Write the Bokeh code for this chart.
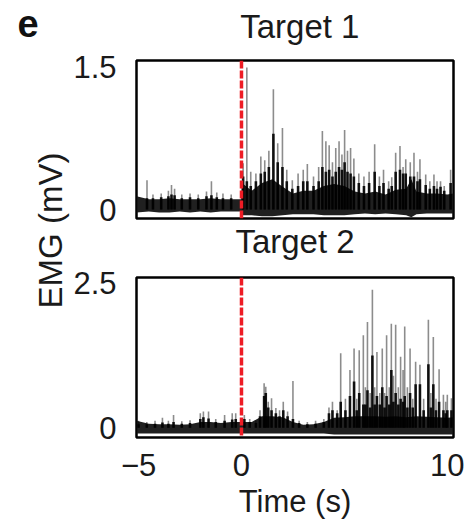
import numpy as np
from bokeh.plotting import figure
from bokeh.layouts import row, column
from bokeh.models import Range1d, FixedTicker, Span, ColumnDataSource, Title
from bokeh.core.properties import value
from bokeh.embed import file_html
from bokeh.resources import INLINE

# ---------------- data ----------------
# Target 1: dense EMG band envelope (mV)
t1_band_t = [-5.1, -4.5, -4.0, -3.5, -3.0, -2.5, -2.0, -1.5, -1.0, -0.5, -0.02, 0.02, 0.5, 1.0, 1.5,
             2.0, 2.5, 3.0, 3.5, 4.0, 4.5, 5.0, 5.5, 6.0, 6.5, 7.0, 7.5, 8.0, 8.25, 8.5, 9.0, 9.5, 10.0, 10.3]
t1_band_hi = [0.14, 0.11, 0.11, 0.12, 0.11, 0.11, 0.11, 0.12, 0.11, 0.11, 0.11, 0.28, 0.20, 0.28, 0.32,
              0.24, 0.17, 0.20, 0.20, 0.25, 0.27, 0.25, 0.19, 0.17, 0.19, 0.16, 0.21, 0.22, 0.32, 0.19, 0.17, 0.17, 0.16, 0.17]
t1_band_lo = [-0.03, -0.02, -0.03, -0.03, -0.02, -0.03, -0.02, -0.03, -0.02, -0.02, -0.02, -0.06, -0.06, -0.07, -0.07,
              -0.06, -0.05, -0.05, -0.05, -0.06, -0.06, -0.06, -0.05, -0.04, -0.05, -0.04, -0.05, -0.06, -0.08, -0.05, -0.04, -0.04, -0.04, -0.04]
# Target 1: individual spikes (time s, peak mV, dark core mV)
t1_spk_t = [-4.59, -4.3, -3.9, -3.55, -3.40, -3.25, -2.9, -2.5, -2.1, -1.7, -1.46, -1.2, -0.9, -0.5,
            0.08, 0.26, 0.45, 0.7, 0.94, 1.13, 1.33, 1.55, 1.76, 1.99, 2.2, 2.47, 2.75, 3.0, 3.2, 3.5, 3.75,
            3.93, 4.1, 4.26, 4.42, 4.58, 4.74, 4.88, 5.01, 5.15, 5.3, 5.46, 5.7, 5.95, 6.2, 6.47, 6.7, 6.9,
            7.15, 7.3, 7.49, 7.7, 7.85, 7.98, 8.2, 8.38, 8.55, 8.67, 8.95, 9.15, 9.35, 9.5, 9.67, 9.85, 10.16]
t1_spk_pk = [0.31, 0.16, 0.17, 0.20, 0.26, 0.22, 0.16, 0.17, 0.16, 0.19, 0.30, 0.18, 0.17, 0.16,
             0.49, 1.50, 0.40, 0.38, 0.56, 0.52, 0.62, 1.27, 0.70, 0.86, 0.42, 0.31, 0.38, 0.42, 0.48, 0.35, 0.45,
             0.83, 0.72, 0.68, 0.50, 0.65, 0.72, 0.58, 0.84, 0.62, 0.65, 0.54, 0.38, 0.35, 0.40, 0.69, 0.35, 0.42,
             0.30, 0.34, 0.60, 0.67, 0.45, 0.53, 0.50, 0.60, 0.40, 0.53, 0.37, 0.30, 0.37, 0.30, 0.30, 0.25, 0.42]
t1_spk_core = [0.12, 0.12, 0.13, 0.14, 0.16, 0.15, 0.12, 0.13, 0.12, 0.14, 0.15, 0.13, 0.12, 0.12,
               0.35, 0.30, 0.25, 0.30, 0.38, 0.40, 0.45, 0.80, 0.50, 0.45, 0.30, 0.22, 0.25, 0.30, 0.30, 0.25, 0.30,
               0.45, 0.40, 0.42, 0.35, 0.40, 0.45, 0.42, 0.50, 0.40, 0.38, 0.35, 0.28, 0.25, 0.28, 0.40, 0.25, 0.28,
               0.22, 0.25, 0.40, 0.42, 0.38, 0.38, 0.35, 0.35, 0.30, 0.32, 0.26, 0.22, 0.25, 0.22, 0.24, 0.20, 0.28]

# Target 2: dense EMG band envelope (mV)
t2_band_t = [-5.1, -4.5, -4.0, -3.5, -3.0, -2.5, -2.0, -1.5, -1.0, -0.5, 0.0, 0.5, 1.0, 1.5, 2.0, 2.5,
             3.0, 3.5, 4.0, 4.5, 5.0, 5.5, 6.0, 6.5, 7.0, 7.5, 8.0, 8.5, 9.0, 9.5, 10.0, 10.3]
t2_band_hi = [0.12, 0.07, 0.06, 0.06, 0.05, 0.06, 0.10, 0.10, 0.08, 0.10, 0.10, 0.10, 0.20, 0.20, 0.18, 0.10,
              0.05, 0.06, 0.10, 0.17, 0.18, 0.20, 0.20, 0.20, 0.19, 0.20, 0.18, 0.20, 0.19, 0.18, 0.17, 0.18]
t2_band_lo = [-0.10, -0.10, -0.10, -0.10, -0.10, -0.10, -0.10, -0.10, -0.10, -0.10, -0.10, -0.10, -0.10, -0.10, -0.10, -0.10,
              -0.10, -0.10, -0.10, -0.12, -0.12, -0.12, -0.12, -0.12, -0.12, -0.12, -0.12, -0.12, -0.12, -0.12, -0.12, -0.12]
# Target 2: individual spikes (time s, peak mV, dark core mV)
t2_spk_t = [-5.0, -4.6, -4.2, -3.84, -3.55, -3.3, -2.9, -2.5, -2.0, -1.85, -1.6, -1.25, -0.82, -0.45, -0.28, 0.14,
            0.4, 0.7, 0.9, 1.10, 1.18, 1.3, 1.46, 1.67, 1.85, 2.03, 2.24, 2.50, 2.8, 3.2, 3.6, 4.0, 4.25, 4.42,
            4.65, 4.82, 5.05, 5.27, 5.47, 5.6, 5.72, 5.92, 6.02, 6.12, 6.25, 6.36, 6.47, 6.58, 6.72, 6.84, 6.95,
            7.05, 7.18, 7.28, 7.38, 7.49, 7.62, 7.73, 7.85, 7.93, 8.06, 8.19, 8.32, 8.46, 8.67, 8.85, 9.08, 9.2,
            9.32, 9.45, 9.6, 9.81, 9.92, 10.0, 10.2]
t2_spk_pk = [0.12, 0.10, 0.12, 0.17, 0.12, 0.22, 0.11, 0.13, 0.25, 0.28, 0.28, 0.15, 0.22, 0.25, 0.25, 0.22,
             0.15, 0.12, 0.30, 0.77, 0.71, 0.45, 0.51, 0.34, 0.30, 0.45, 0.28, 0.81, 0.12, 0.10, 0.12, 0.15, 0.35, 0.45,
             0.30, 1.29, 0.50, 1.00, 1.37, 0.50, 1.34, 1.60, 0.70, 1.83, 0.60, 2.39, 0.70, 1.31, 0.60, 1.37, 0.60,
             1.60, 0.70, 1.80, 0.90, 1.78, 0.70, 1.23, 1.00, 1.75, 0.70, 1.37, 0.50, 1.14, 1.09, 0.50, 1.87, 0.60,
             1.57, 0.50, 1.01, 0.57, 0.45, 0.57, 0.51]
t2_spk_core = [0.06, 0.06, 0.07, 0.09, 0.07, 0.10, 0.07, 0.08, 0.15, 0.18, 0.16, 0.10, 0.12, 0.14, 0.15, 0.15,
               0.10, 0.08, 0.20, 0.55, 0.60, 0.35, 0.30, 0.25, 0.20, 0.30, 0.20, 0.15, 0.08, 0.06, 0.07, 0.10, 0.25, 0.30,
               0.25, 0.45, 0.30, 0.55, 0.80, 0.30, 0.60, 0.40, 0.40, 0.65, 0.35, 1.25, 0.40, 0.55, 0.40, 0.70, 0.35,
               0.55, 0.40, 1.00, 0.45, 0.60, 0.40, 0.50, 0.45, 0.55, 0.35, 0.60, 0.35, 0.75, 0.75, 0.30, 1.10, 0.35,
               0.75, 0.30, 0.45, 0.30, 0.25, 0.30, 0.30]

x_ticks = [-5, 0, 10]
y1_ticks = [0, 1.5]
y2_ticks = [0, 2.5]
titles = ["Target 1", "Target 2"]

# ---------------- styling ----------------
FONT = "Liberation Sans"
FS = "31px"
TXT = "#1a1a1a"
x_range = Range1d(-5.1, 10.3)


def make_panel(band_t, band_hi, band_lo, spk_t, spk_pk, spk_core, yticks, yrange,
               height, border_top, border_bottom):
    p = figure(width=394, height=height, x_range=x_range, y_range=Range1d(*yrange),
               output_backend="svg", toolbar_location=None,
               min_border_left=65, min_border_right=11,
               min_border_top=border_top, min_border_bottom=border_bottom)
    p.grid.visible = False
    p.outline_line_color = "black"
    p.outline_line_width = 2.5
    p.outline_line_alpha = 1.0
    p.background_fill_color = "white"
    p.border_fill_color = "white"

    band = ColumnDataSource(dict(t=band_t, hi=band_hi, lo=band_lo))
    p.varea(x="t", y1="lo", y2="hi", source=band, fill_color="#141414", fill_alpha=0.95)
    zeros = [0.0] * len(spk_t)
    spk = ColumnDataSource(dict(t=spk_t, pk=spk_pk, core=spk_core, z=zeros))
    p.segment(x0="t", y0="z", x1="t", y1="pk", source=spk, line_color="black",
              line_alpha=0.45, line_width=1.6)
    p.segment(x0="t", y0="z", x1="t", y1="core", source=spk, line_color="black",
              line_alpha=0.9, line_width=2.6)

    p.add_layout(Span(location=0, dimension="height", line_color="#ee1c25",
                      line_width=3.5, line_dash="8 2"))

    ya = p.yaxis[0]
    ya.ticker = FixedTicker(ticks=yticks)
    ya.major_label_overrides = {yticks[0]: "0", yticks[1]: str(yticks[1])}
    ya.major_tick_line_color = None
    ya.minor_tick_line_color = None
    ya.axis_line_color = None
    ya.major_label_standoff = 14
    ya.major_label_text_font = FONT
    ya.major_label_text_font_size = FS
    ya.major_label_text_color = TXT
    return p


# strip above the first panel carrying its title
head = figure(width=394, height=48, x_range=Range1d(0, 394), y_range=Range1d(0, 48),
              x_axis_location=None, y_axis_location=None, output_backend="svg",
              toolbar_location=None, min_border=0)
head.grid.visible = False
head.outline_line_color = None
head.text(x=[203], y=[22], text=[titles[0]], text_font=value(FONT), text_font_size="33px",
          text_align="center", text_baseline="middle", text_color=TXT)

p1 = make_panel(t1_band_t, t1_band_hi, t1_band_lo, t1_spk_t, t1_spk_pk, t1_spk_core,
                y1_ticks, (-0.094, 1.573), 214, 12, 43)
p1.xaxis.visible = False
t2 = Title(text=titles[1], align="center", text_font=FONT, text_font_size="33px",
           text_font_style="normal", text_color=TXT, standoff=5)
p1.add_layout(t2, "below")

p2 = make_panel(t2_band_t, t2_band_hi, t2_band_lo, t2_spk_t, t2_spk_pk, t2_spk_core,
                y2_ticks, (-0.17, 2.60), 259, 15, 83)
xa = p2.xaxis[0]
xa.ticker = FixedTicker(ticks=x_ticks)
xa.major_label_overrides = {-5: "\u22125", 0: "0", 10: "10"}
xa.major_tick_line_color = None
xa.minor_tick_line_color = None
xa.axis_line_color = None
xa.major_label_standoff = 10
xa.major_label_text_font = FONT
xa.major_label_text_font_size = FS
xa.major_label_text_color = TXT
xa.axis_label = "Time (s)"
xa.axis_label_standoff = 5
xa.axis_label_text_font = FONT
xa.axis_label_text_font_size = FS
xa.axis_label_text_font_style = "normal"
xa.axis_label_text_color = TXT

# left strip with panel letter and shared y label
lab = figure(width=70, height=521, x_range=Range1d(0, 70), y_range=Range1d(0, 521),
             x_axis_location=None, y_axis_location=None, output_backend="svg",
             toolbar_location=None, min_border=0)
lab.grid.visible = False
lab.outline_line_color = None
lab.text(x=[17], y=[498], text=["e"], text_font=value(FONT), text_font_size="38px",
         text_font_style="bold", text_align="left", text_baseline="middle", text_color="#111111")
lab.text(x=[50], y=[291], text=["EMG (mV)"], text_font=value(FONT), text_font_size="33px",
         angle=np.pi / 2, text_align="center", text_baseline="middle", text_color=TXT)

layout = row(lab, column(head, p1, p2))

open("out.html", "w").write(file_html(layout, INLINE))
